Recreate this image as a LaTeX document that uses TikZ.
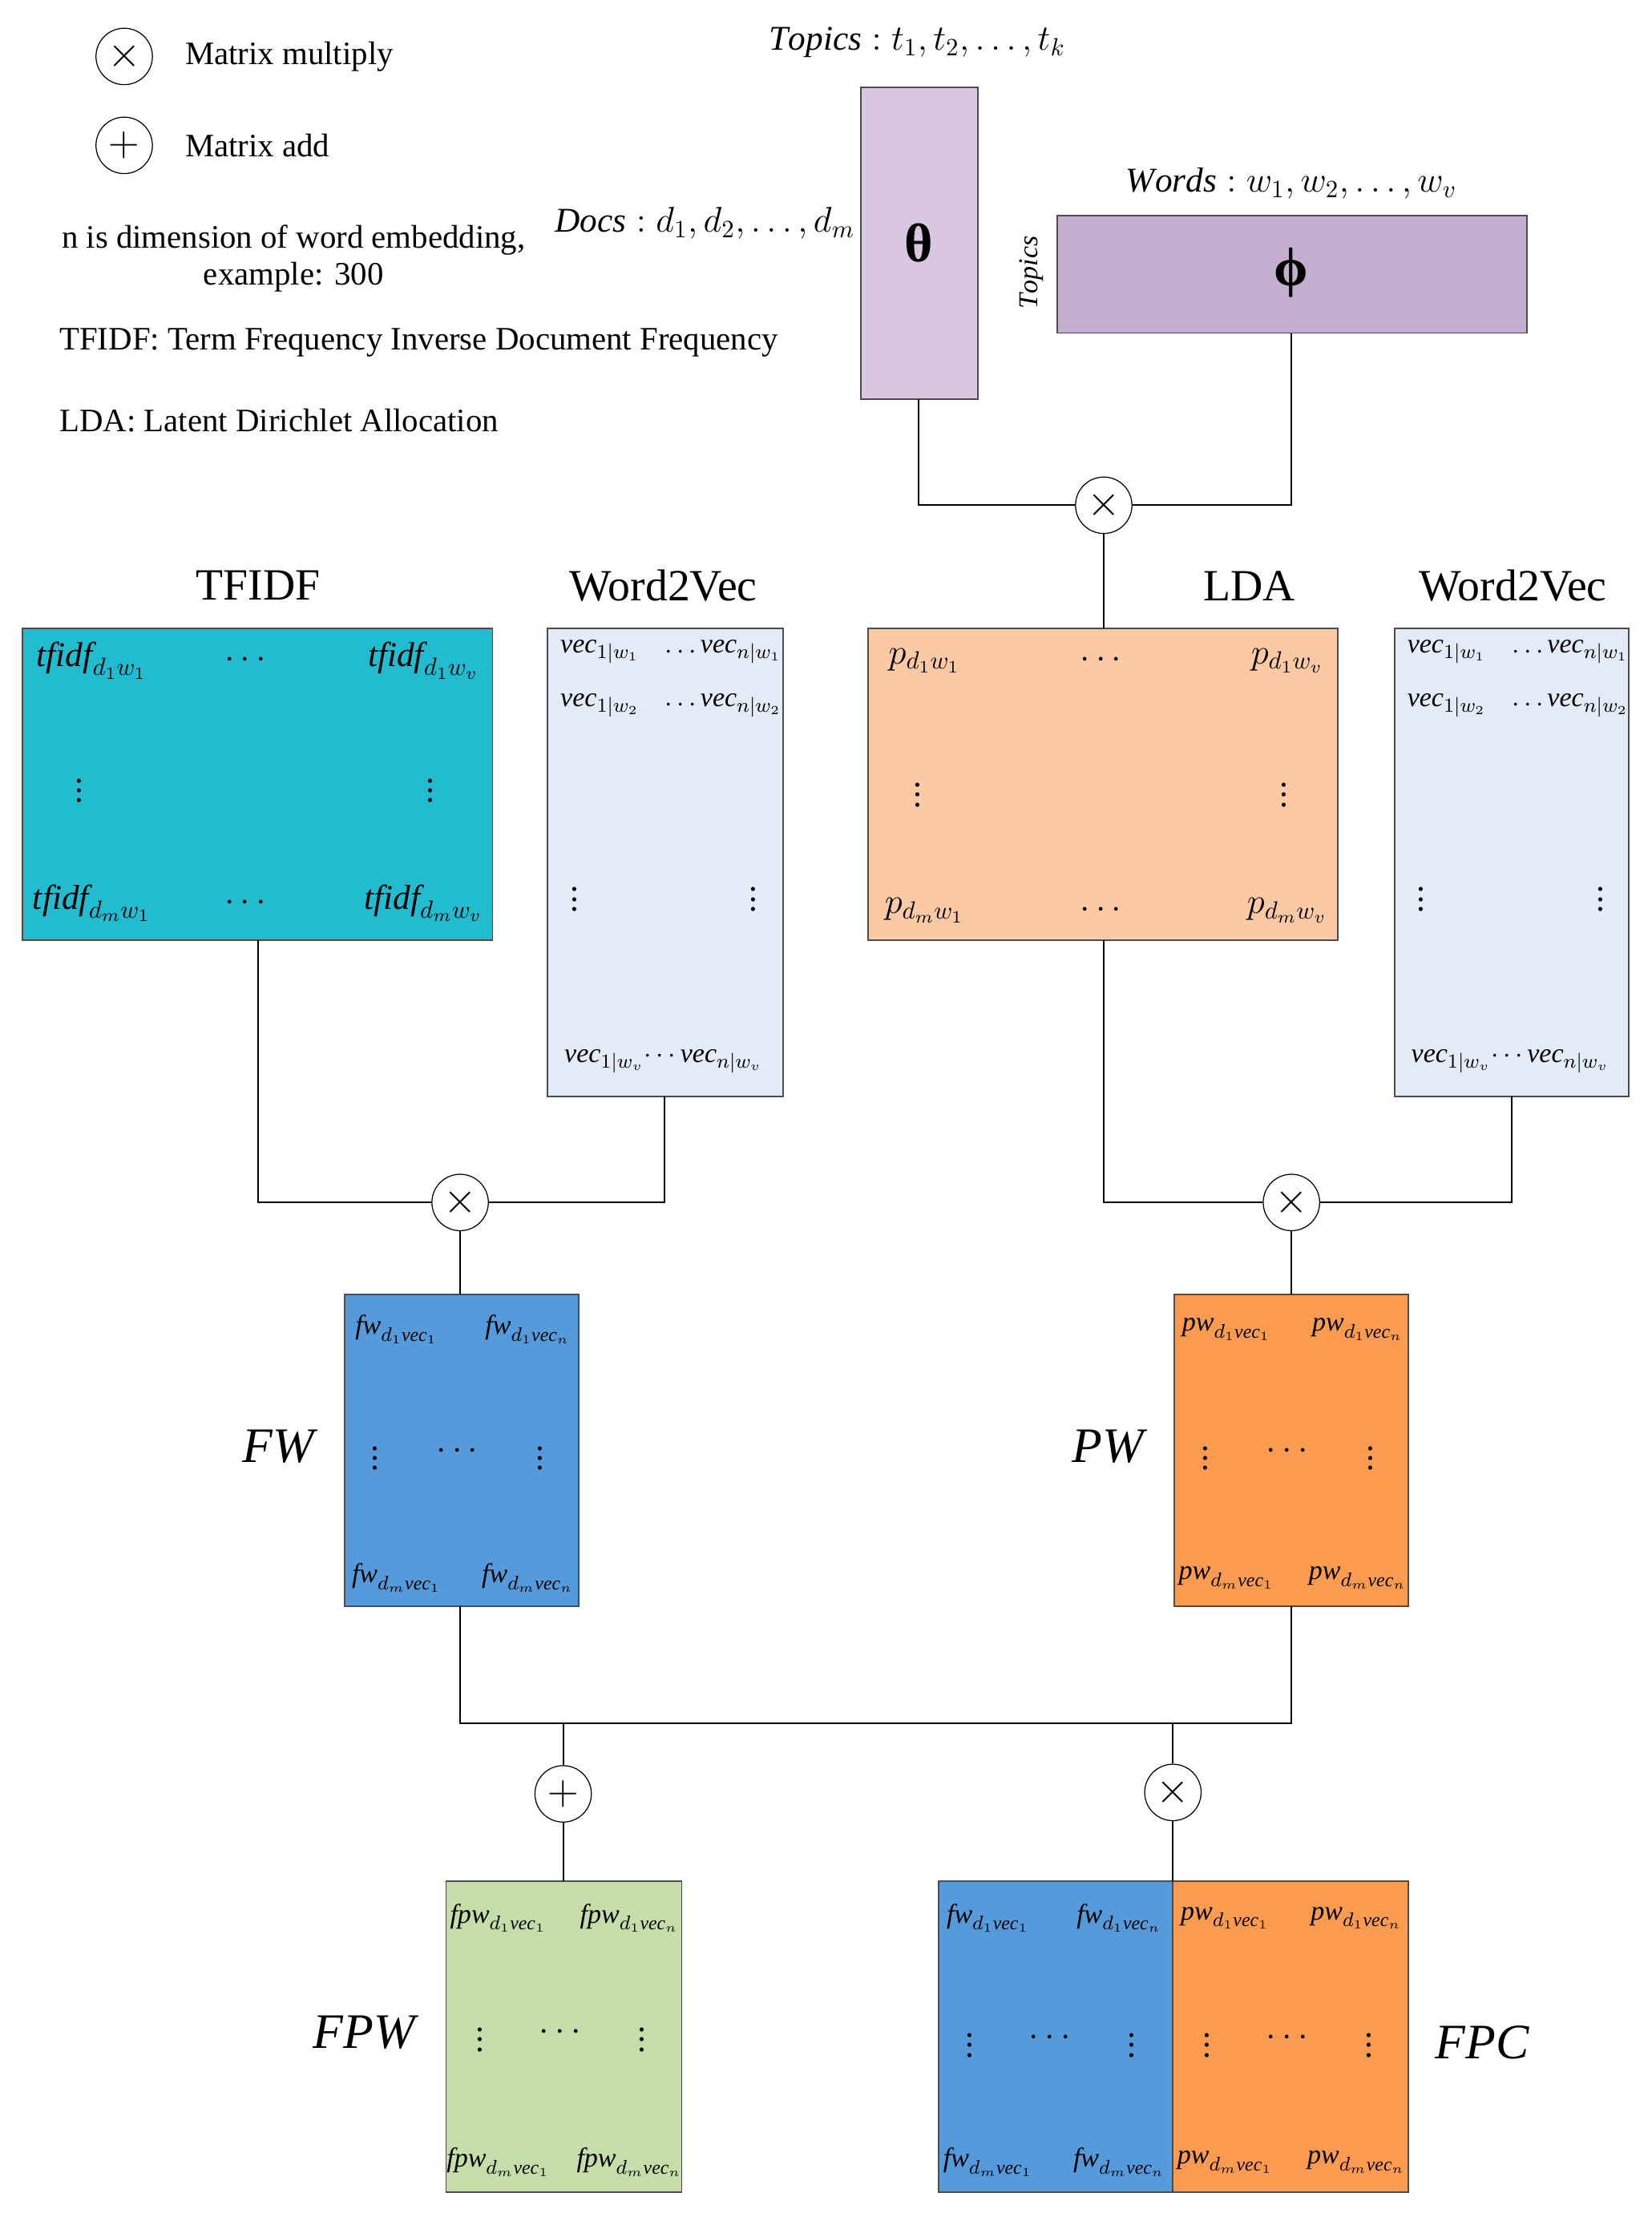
\documentclass[tikz,border=0pt]{standalone}
\usepackage{fontspec}
\usepackage{amsmath}
\setmainfont{Liberation Serif}
\begin{document}
\begin{tikzpicture}[x=0.02cm,y=-0.02cm,
  box/.style={draw=black!70,line width=0.6pt,anchor=north west,inner sep=0},
  op/.style={circle,draw,fill=white,minimum size=0.8cm,inner sep=0,font=\fontsize{16}{16}\selectfont},
  ln/.style={line width=0.6pt},
  ent/.style={font=\fontsize{14}{14}\selectfont,inner sep=0},
  sent/.style={font=\fontsize{11}{11}\selectfont,inner sep=0},
  lbl/.style={font=\fontsize{18}{18}\selectfont},
  leg/.style={font=\fontsize{13.2}{15}\selectfont}]
\useasboundingbox (0,0) rectangle (1170,1568);
\definecolor{cth}{HTML}{D9C6E0}\definecolor{cph}{HTML}{C3AED0}
\definecolor{ctf}{HTML}{22BCD0}\definecolor{cwv}{HTML}{E3EBF7}
\definecolor{clda}{HTML}{FBC9A4}\definecolor{cfw}{HTML}{559BDC}
\definecolor{cpw}{HTML}{FB9B4F}\definecolor{cfpw}{HTML}{C5DDA8}
% legend
\node[op] (l1) at (88,40) {$\times$};
\node[leg,anchor=west] (l1t) at (125,40) {Matrix multiply};
\node[op] (l2) at (88,103) {$+$};
\node[leg,anchor=west] (l2t) at (125,103) {Matrix add};
\node[leg,align=center] (n1) at (208,183) {n is dimension of word embedding,\\ example: 300};
\node[leg,anchor=west] (n2) at (36,243) {TFIDF: Term Frequency Inverse Document Frequency};
\node[leg,anchor=west] (n3) at (36,298) {LDA: Latent Dirichlet Allocation};
% theta / phi
\path[box,fill=cth] (610,62) rectangle (693,283);
\node (th) at (651,172) {\fontsize{22}{22}\selectfont\bfseries θ};
\coordinate (thb) at (651,283);
\node[ent] (tt) at (650,30) {$\mathit{Topics}: t_1,t_2,\dots,t_k$};
\node[ent,anchor=east] (dd) at (606,158) {$\mathit{Docs}: d_1,d_2,\dots,d_m$};
\path[box,fill=cph] (749,153) rectangle (1082,236);
\node (ph) at (915,193) {\fontsize{22}{22}\selectfont\bfseries ϕ};
\coordinate (phb) at (915,236);
\node[ent] (ww) at (915,130) {$\mathit{Words}: w_1,w_2,\dots,w_v$};
\node[sent,rotate=90] (tp) at (731,193) {$\mathit{Topics}$};
\node[op] (m0) at (782,358) {$\times$};
\draw[ln] (thb) |- (m0.west); \draw[ln] (phb) |- (m0.east);
% row of matrices
\node[lbl] at (183,415) {TFIDF}; \node[lbl] at (470,415) {Word2Vec};
\node[lbl] at (885,415) {LDA}; \node[lbl] at (1072,415) {Word2Vec};
\path[box,fill=ctf] (16,445) rectangle (349,666);
\path[box,fill=cwv] (388,445) rectangle (555,777);
\path[box,fill=clda] (615,445) rectangle (948,666);
\path[box,fill=cwv] (988,445) rectangle (1154,777);
\coordinate (tfb) at (183,666); \coordinate (wv1b) at (471,777);
\coordinate (ldat) at (782,445); \coordinate (ldab) at (782,666); \coordinate (wv2b) at (1071,777);
\draw[ln] (m0) -- (ldat);
% tfidf entries
\foreach \y/\r in {468/1,640/m}{
 \node[ent] at (65,\y) {$\mathit{tfidf}_{d_\r w_1}$};
 \node[ent] at (176,\y) {$\cdots$};
 \node[ent] at (300,\y) {$\mathit{tfidf}_{d_\r w_v}$};}
\node[ent] at (56,555) {$\vdots$}; \node[ent] at (305,555) {$\vdots$};
% word2vec entries
\foreach \dx in {0,600}{
 \node[sent] at (425+\dx,462) {$\mathit{vec}_{1|w_1}$};
 \node[sent] at (484+\dx,462) {$\cdots$};
 \node[sent] at (525+\dx,462) {$\mathit{vec}_{n|w_1}$};
 \node[sent] at (425+\dx,500) {$\mathit{vec}_{1|w_2}$};
 \node[sent] at (484+\dx,500) {$\cdots$};
 \node[sent] at (525+\dx,500) {$\mathit{vec}_{n|w_2}$};
 \node[ent] at (407+\dx,632) {$\vdots$}; \node[ent] at (534+\dx,632) {$\vdots$};
 \node[sent] at (470+\dx,752) {$\mathit{vec}_{1|w_v}\!\cdots \mathit{vec}_{n|w_v}$};}
% lda entries
\foreach \y/\r in {468/1,645/m}{
 \node[ent] at (655,\y) {$p_{d_\r w_1}$};
 \node[ent] at (782,\y) {$\cdots$};
 \node[ent] at (912,\y) {$p_{d_\r w_v}$};}
\node[ent] at (650,558) {$\vdots$}; \node[ent] at (910,558) {$\vdots$};
% multiplies
\node[op] (m1) at (326,852) {$\times$};
\node[op] (m2) at (915,852) {$\times$};
\draw[ln] (tfb) |- (m1.west); \draw[ln] (wv1b) |- (m1.east);
\draw[ln] (ldab) |- (m2.west); \draw[ln] (wv2b) |- (m2.east);
% FW, PW
\path[box,fill=cfw] (244,917) rectangle (410,1138);
\path[box,fill=cpw] (832,917) rectangle (998,1138);
\coordinate (fwt) at (326,917); \coordinate (fwb) at (326,1138);
\coordinate (pwt) at (915,917); \coordinate (pwb) at (915,1138);
\draw[ln] (m1) -- (fwt); \draw[ln] (m2) -- (pwt);
\node[font=\fontsize{20}{20}\selectfont] at (197,1025) {$\mathit{FW}$};
\node[font=\fontsize{20}{20}\selectfont] at (785,1025) {$\mathit{PW}$};
\foreach \dx/\nm in {0/fw,588/pw}{
 \node[sent] at (281+\dx,942) {$\mathit{\nm}_{d_1\mathit{vec}_1}$};
 \node[sent] at (374+\dx,942) {$\mathit{\nm}_{d_1\mathit{vec}_n}$};
 \node[sent] at (281+\dx,1118) {$\mathit{\nm}_{d_m\mathit{vec}_1}$};
 \node[sent] at (374+\dx,1118) {$\mathit{\nm}_{d_m\mathit{vec}_n}$};
 \node[ent] at (266+\dx,1028) {$\vdots$}; \node[ent] at (383+\dx,1028) {$\vdots$};
 \node[ent] at (326+\dx,1028) {$\cdots$};}
% bottom
\coordinate (j1) at (326,1221); \coordinate (j2) at (915,1221);
\coordinate (ja) at (399,1221); \coordinate (jb) at (831,1221);
\draw[ln] (fwb) -- (j1) -- (j2) -- (pwb);
\node[op] (a1) at (399,1271) {$+$};
\node[op] (m3) at (831,1270) {$\times$};
\draw[ln] (ja) -- (a1); \draw[ln] (jb) -- (m3);
\path[box,fill=cfpw] (316,1333) rectangle (483,1553);
\path[box,fill=cfw] (665,1333) rectangle (831,1553);
\path[box,fill=cpw] (831,1333) rectangle (998,1553);
\coordinate (fpwt) at (399,1333); \coordinate (fpct) at (831,1333);
\draw[ln] (a1) -- (fpwt); \draw[ln] (m3) -- (fpct);
\node[font=\fontsize{20}{20}\selectfont] at (258,1440) {$\mathit{FPW}$};
\node[font=\fontsize{20}{20}\selectfont] at (1050,1447) {$\mathit{FPC}$};
\foreach \x/\nm/\y in {353/fpw/1440,700/fw/1444,868/pw/1444}{
 \node[sent] at (\x,1359) {$\mathit{\nm}_{d_1\mathit{vec}_1}$};
 \node[sent] at (\x+93,1359) {$\mathit{\nm}_{d_1\mathit{vec}_n}$};
 \node[sent] at (\x,1532) {$\mathit{\nm}_{d_m\mathit{vec}_1}$};
 \node[sent] at (\x+93,1532) {$\mathit{\nm}_{d_m\mathit{vec}_n}$};
 \node[ent] at (\x-13,\y) {$\vdots$}; \node[ent] at (\x+102,\y) {$\vdots$};
 \node[ent] at (\x+46,\y) {$\cdots$};}
\end{tikzpicture}
\end{document}
